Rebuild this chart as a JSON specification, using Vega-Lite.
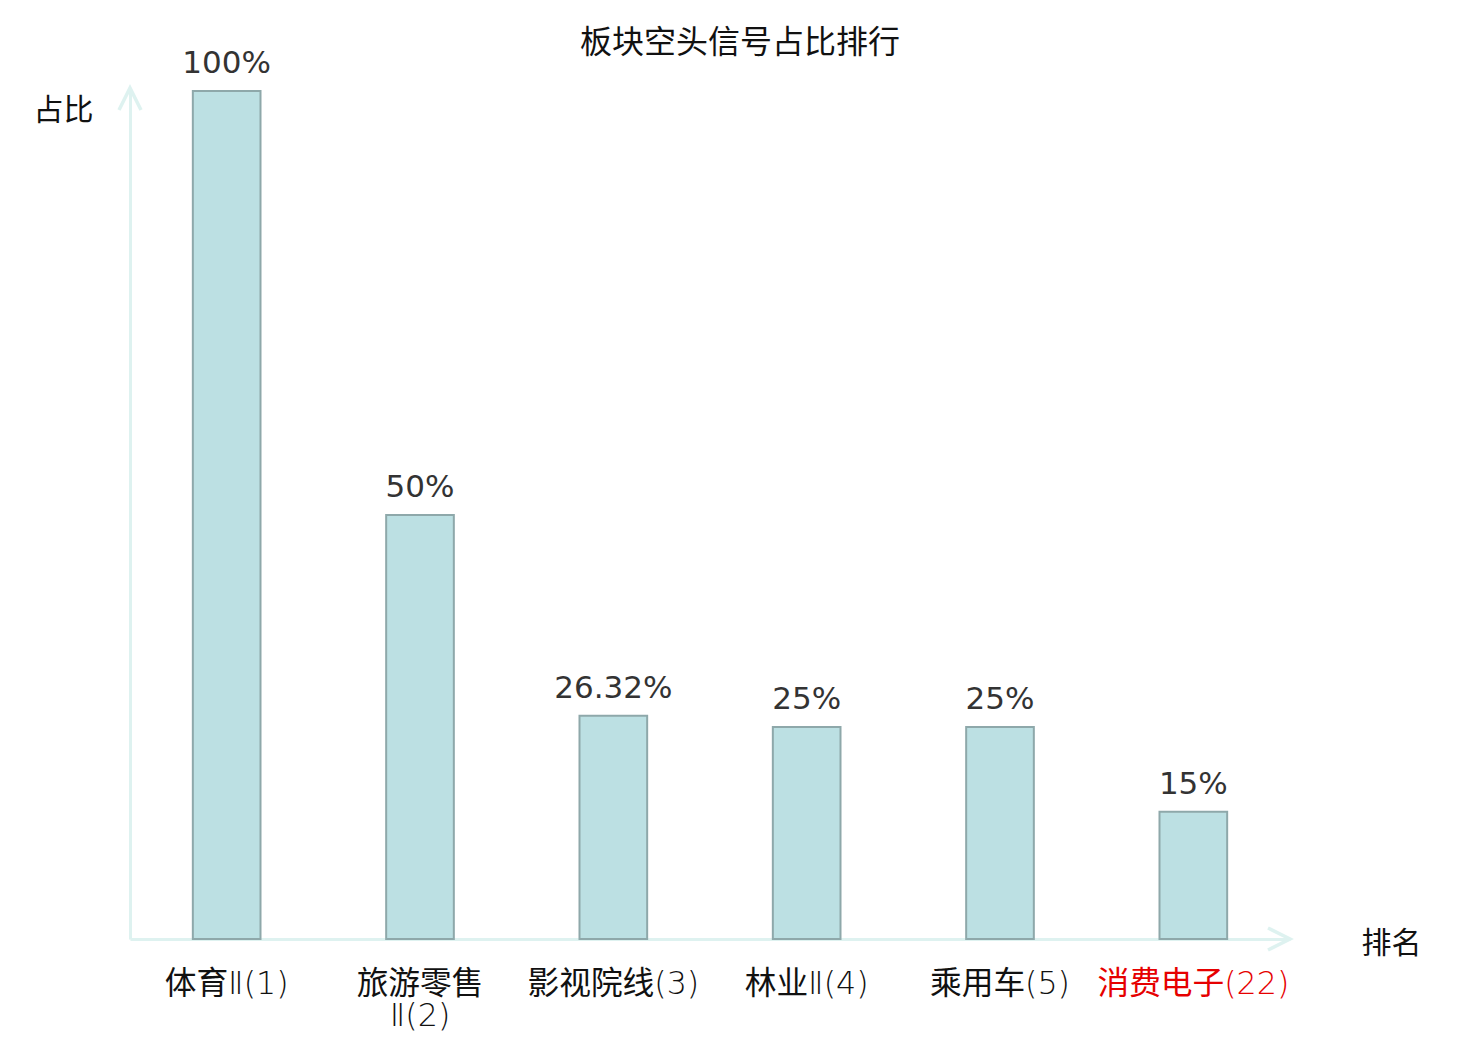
{
  "$schema": "https://vega.github.io/schema/vega-lite/v6.json",
  "width": 1160,
  "height": 851,
  "autosize": "none",
  "padding": {"left": 130, "top": 88, "right": 190, "bottom": 101},
  "background": "white",
  "title": {
    "text": "板块空头信号占比排行",
    "font": "Noto Sans CJK SC",
    "fontSize": 32,
    "fontWeight": "normal",
    "color": "#111111",
    "anchor": "middle",
    "dx": 30,
    "offset": -12
  },
  "config": {"view": {"stroke": null}},
  "datasets": {
    "bars": [
      {"name": "体育Ⅱ(1)", "value": 1.0, "label": "100%"},
      {"name": "旅游零售Ⅱ(2)", "value": 0.5, "label": "50%"},
      {"name": "影视院线(3)", "value": 0.2632, "label": "26.32%"},
      {"name": "林业Ⅱ(4)", "value": 0.25, "label": "25%"},
      {"name": "乘用车(5)", "value": 0.25, "label": "25%"},
      {"name": "消费电子(22)", "value": 0.15, "label": "15%"}
    ],
    "arrows": [
      {"ax": 0, "ay": 1.0035, "dir": "up"},
      {"ax": 1, "ay": 0, "dir": "right"}
    ]
  },
  "layer": [
    {
      "data": {"name": "bars"},
      "encoding": {
        "x": {
          "field": "name",
          "type": "nominal",
          "sort": null,
          "scale": {"paddingInner": 0.65, "paddingOuter": 0.325},
          "axis": {
            "title": "排名",
            "titleFont": "Noto Sans CJK SC",
            "titleFontSize": 30,
            "titleFontWeight": "normal",
            "titleColor": "#111111",
            "titleX": 1261,
            "titleY": 4,
            "titleAlign": "center",
            "titleBaseline": "middle",
            "domainColor": "#def2f0",
            "domainWidth": 3,
            "ticks": false,
            "labelAngle": 0,
            "labelFont": "DejaVu Sans Light, Noto Sans CJK SC",
            "labelFontSize": 31.7,
            "labelFontWeight": "normal",
            "labelPadding": 29,
            "labelLineHeight": 32,
            "labelBaseline": "top",
            "labelLimit": 400,
            "labelExpr": "split(datum.value == '旅游零售Ⅱ(2)' ? '旅游零售|Ⅱ(2)' : datum.value, '|')",
            "labelColor": {"condition": {"test": "datum.value == '消费电子(22)'", "value": "#e60000"}, "value": "#111111"}
          }
        },
        "y": {
          "field": "value",
          "type": "quantitative",
          "scale": {"domain": [0, 1.0035], "nice": false},
          "axis": {
            "title": "占比",
            "titleFont": "Noto Sans CJK SC",
            "titleFontSize": 30,
            "titleFontWeight": "normal",
            "titleColor": "#111111",
            "titleAngle": 0,
            "titleX": -67,
            "titleY": 22,
            "titleAlign": "center",
            "titleBaseline": "middle",
            "domainColor": "#def2f0",
            "domainWidth": 3,
            "ticks": false,
            "labels": false,
            "grid": false
          }
        }
      },
      "layer": [
        {"mark": {"type": "bar", "fill": "#bce0e3", "stroke": "#8ea8aa", "strokeWidth": 2}},
        {
          "mark": {"type": "text", "font": "DejaVu Sans", "fontSize": 31, "color": "#333333", "baseline": "alphabetic", "dy": -18},
          "encoding": {"text": {"field": "label"}}
        }
      ]
    },
    {
      "data": {"name": "arrows"},
      "transform": [{"filter": "datum.dir == 'up'"}],
      "mark": {"type": "point", "shape": "M-1,2L0,0L1,2", "size": 484, "filled": false, "stroke": "#def2f0", "strokeWidth": 3.5, "opacity": 1, "angle": 0},
      "encoding": {
        "x": {"field": "ax", "type": "quantitative", "scale": {"domain": [0, 1], "nice": false, "zero": false}, "axis": null},
        "y": {"field": "ay", "type": "quantitative", "scale": {"domain": [0, 1.0035], "nice": false}}
      }
    },
    {
      "data": {"name": "arrows"},
      "transform": [{"filter": "datum.dir == 'right'"}],
      "mark": {"type": "point", "shape": "M-1,2L0,0L1,2", "size": 484, "filled": false, "stroke": "#def2f0", "strokeWidth": 3.5, "opacity": 1, "angle": 90},
      "encoding": {
        "x": {"field": "ax", "type": "quantitative", "scale": {"domain": [0, 1], "nice": false, "zero": false}, "axis": null},
        "y": {"field": "ay", "type": "quantitative", "scale": {"domain": [0, 1.0035], "nice": false}}
      }
    }
  ],
  "resolve": {"scale": {"x": "independent"}}
}
